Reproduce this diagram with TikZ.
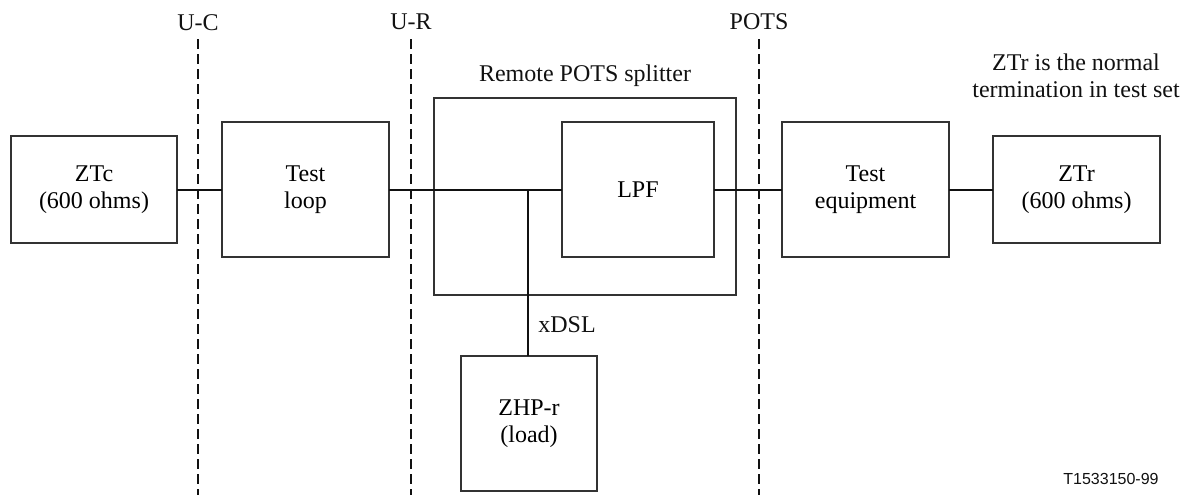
\documentclass[tikz,border=0pt]{standalone}
\usepackage{fontspec}
\setmainfont{Liberation Serif}
\newfontfamily\tagfont{Liberation Sans}
\usetikzlibrary{positioning,calc}
\definecolor{ink}{HTML}{111111}
\definecolor{boxline}{HTML}{333333}

\begin{document}
\begin{tikzpicture}[
  x=0.5pt, y=-0.5pt,
  font=\fontsize{12}{13.5}\selectfont,
  block/.style 2 args={
    draw=boxline,
    line width=0.6pt,
    align=center,
    inner sep=0pt,
    outer sep=0pt,
    minimum width=#1*0.5pt,
    minimum height=#2*0.5pt
  },
  wire/.style={line width=1pt, draw=ink},
  refpoint/.style={line width=1pt, draw=ink, dash pattern=on 5pt off 2.5pt},
  reflabel/.style={text=ink},
  figno/.style={font=\tagfont\fontsize{8}{9}\selectfont, text=ink}
]

% canvas
\useasboundingbox (0,0) rectangle (1186,495);

% Reference points
\coordinate (uctop) at (198,39);  \coordinate (ucbot) at (198,495);
\coordinate (urtop) at (411,39);  \coordinate (urbot) at (411,495);
\coordinate (pstop) at (759,39);  \coordinate (psbot) at (759,495);
\draw[refpoint] (uctop) -- (ucbot);
\draw[refpoint] (urtop) -- (urbot);
\draw[refpoint] (pstop) -- (psbot);
\node[reflabel] (uclab) at (198,23) {U-C};
\node[reflabel] (urlab) at (411,22) {U-R};
\node[reflabel] (pslab) at (759,22) {POTS};

% Central office side
\node[block={166}{107}] (ztc) at (94,189.5) {ZTc\\(600 ohms)};
\node[block={167}{135}] (loop) at (305.5,189.5) {Test\\loop};

% Remote POTS splitter
\node[block={302}{197}] (splitter) at (585,196.5) {};
\node[reflabel] (splitlab) at (585,76) {Remote POTS splitter};
\node[block={152}{135}] (lpf) at (638,189.5) {LPF};
\coordinate (tap) at (528,189.5);
\node[block={136}{135}] (zhp) at (529,423.5) {ZHP-r\\(load)};
\node[reflabel] (xdsl) at (567,325) {xDSL};

% Customer side
\node[block={167}{135}] (testeq) at (865.5,189.5) {Test\\equipment};
\node[block={167}{107}] (ztr) at (1076.5,189.5) {ZTr\\(600 ohms)};
\node[reflabel, align=center] (ztrnote) at (1076,76) {ZTr is the normal\\termination in test set};

% Wiring
\draw[wire] (ztc.east) -- (loop.west);
\draw[wire] (loop.east) -- (lpf.west);
\draw[wire] (tap) -- (tap |- zhp.north);
\draw[wire] (lpf.east) -- (testeq.west);
\draw[wire] (testeq.east) -- (ztr.west);

% Figure number
\node[figno] (fig) at (1111,479) {T1533150-99};

\end{tikzpicture}
\end{document}
